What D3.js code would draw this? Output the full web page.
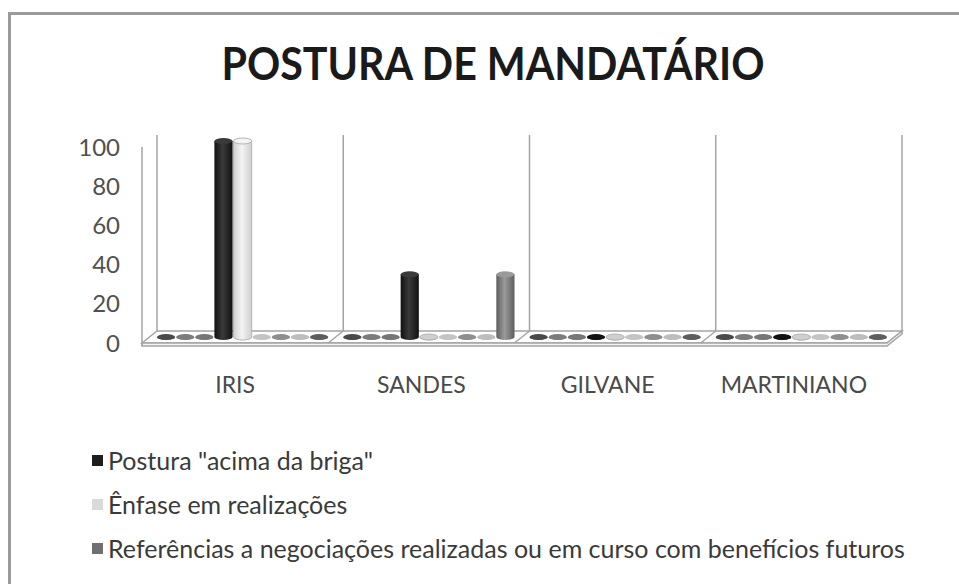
<!DOCTYPE html>
<html>
<head>
<meta charset="utf-8">
<script src="https://cdn.jsdelivr.net/npm/d3@7"></script>
<style>
  body { margin: 0; background: #fff; }
  svg { display: block; }
  text { font-family: Lato, "Open Sans", sans-serif; }
</style>
</head>
<body>
<div id="chart"></div>
<script>
var categories = ["IRIS", "SANDES", "GILVANE", "MARTINIANO"];

// 9 series per candidate, only 3 of them show in the visible part of the legend
var seriesNames = [null, null, null,
    'Postura "acima da briga"',
    "Ênfase em realizações",
    null, null, null,
    "Referências a negociações realizadas ou em curso com benefícios futuros"];

var serie1 = [0, 0, 0, 0],
    serie2 = [0, 0, 0, 0],
    serie3 = [0, 0, 0, 0],
    postura = [100, 32, 0, 0],
    enfase = [100, 0, 0, 0],
    serie6 = [0, 0, 0, 0],
    serie7 = [0, 0, 0, 0],
    serie8 = [0, 0, 0, 0],
    referencias = [0, 32, 0, 0];

var seriesValues = [serie1, serie2, serie3, postura, enfase, serie6, serie7, serie8, referencias];
var yTicks = [0, 20, 40, 60, 80, 100];

// colours: [edge, middle] for the cylinder shading
var colors = [
    ["#4a4a4a", "#7a7a7a"],
    ["#7c7c7c", "#a8a8a8"],
    ["#767676", "#a0a0a0"],
    ["#111111", "#3a3a3a"],
    ["#cfcfcf", "#f4f4f4"],
    ["#c4c4c4", "#e0e0e0"],
    ["#8e8e8e", "#b8b8b8"],
    ["#bdbdbd", "#dcdcdc"],
    ["#5e5e5e", "#9a9a9a"]
];

var width = 959,
    height = 584;

var svg = d3.select("#chart").append("svg")
    .attr("width", width)
    .attr("height", height);

var defs = svg.append("defs");
colors.forEach(function (c, i) {
    var g = defs.append("linearGradient").attr("id", "cyl" + i)
        .attr("x1", 0).attr("x2", 1).attr("y1", 0).attr("y2", 0);
    g.append("stop").attr("offset", "0%").attr("stop-color", c[0]);
    g.append("stop").attr("offset", "45%").attr("stop-color", c[1]);
    g.append("stop").attr("offset", "100%").attr("stop-color", c[0]);
});

// outer frame
svg.append("path")
    .attr("d", "M9.5,600V13.5H980")
    .attr("fill", "none")
    .attr("stroke", "#9a9a9a")
    .attr("stroke-width", 3);

svg.append("text")
    .attr("x", 493)
    .attr("y", 80)
    .attr("text-anchor", "middle")
    .attr("font-weight", "bold")
    .attr("font-size", 46)
    .attr("textLength", 543)
    .attr("lengthAdjust", "spacingAndGlyphs")
    .attr("fill", "#1a1a1a")
    .text("POSTURA DE MANDATÁRIO");

// 3D box
var depthX = 15, depthY = -12;
var x0 = d3.scaleBand().domain(categories).range([142, 887]);
var y = d3.scaleLinear().domain([0, 100]).range([343, 147]);
var x1 = d3.scaleBand().domain(d3.range(seriesValues.length))
    .range([7.5, x0.bandwidth() - 7.5]).paddingInner(0.05);

var left = x0.range()[0], right = x0.range()[1];
var wallStroke = "#a4a4a4";
var box = svg.append("g").attr("fill", "none").attr("stroke", wallStroke).attr("stroke-width", 1.5);

// floor slab
box.append("path")
    .attr("fill", "#fff")
    .attr("d", "M" + left + "," + y(0) + "L" + (left + depthX) + "," + (y(0) + depthY) +
        "H" + (right + depthX) + "L" + right + "," + y(0) + "Z");
box.append("path")
    .attr("fill", "#f4f4f4")
    .attr("d", "M" + left + "," + y(0) + "H" + right + "L" + (right + depthX) + "," + (y(0) + depthY) +
        "V" + (y(0) + depthY + 3) + "L" + right + "," + (y(0) + 3) + "H" + left + "Z");

// side wall edges
box.append("line").attr("x1", left).attr("x2", left).attr("y1", y(0) + 3).attr("y2", y(100));
box.append("line").attr("x1", left + depthX).attr("x2", left + depthX)
    .attr("y1", y(0) + depthY).attr("y2", y(100) + depthY);

// category dividers on the back wall and across the floor
var dividers = categories.map(function (c) { return x0(c) + x0.bandwidth(); });
box.selectAll(".div").data(dividers).join("path")
    .attr("class", "div")
    .attr("d", function (d, i) {
        var p = "M" + (d + depthX) + "," + (y(100) + depthY) + "V" + (y(0) + depthY);
        if (i < dividers.length - 1) p += "L" + d + "," + y(0);
        return p;
    });

// y labels
svg.append("g").selectAll("text").data(yTicks).join("text")
    .attr("x", 120)
    .attr("y", function (d) { return y(d); })
    .attr("dy", "0.36em")
    .attr("text-anchor", "end")
    .attr("font-size", 24)
    .attr("fill", "#505050")
    .text(function (d) { return d; });

// category labels
svg.append("g").selectAll("text").data(categories).join("text")
    .attr("x", function (d) { return x0(d) + x0.bandwidth() / 2; })
    .attr("y", 385)
    .attr("dy", "0.36em")
    .attr("text-anchor", "middle")
    .attr("font-size", 23)
    .attr("fill", "#4a4a4a")
    .text(function (d) { return d; });

// cylinders, placed at mid depth
var mid = svg.append("g").attr("transform", "translate(" + depthX / 2 + "," + depthY / 2 + ")");
var cells = [];
categories.forEach(function (c, ci) {
    seriesValues.forEach(function (vals, si) {
        cells.push({cat: c, s: si, v: vals[ci]});
    });
});

var rx = x1.bandwidth() / 2, ry = 3;
var cyl = mid.selectAll("g.cyl").data(cells).join("g")
    .attr("class", "cyl")
    .attr("transform", function (d) { return "translate(" + (x0(d.cat) + x1(d.s) + rx) + ",0)"; });

cyl.append("path")
    .attr("fill", function (d) { return "url(#cyl" + d.s + ")"; })
    .attr("stroke", function (d) { return d.s === 4 ? "#b4b4b4" : "none"; })
    .attr("d", function (d) {
        var top = y(d.v), bot = y(0);
        return "M" + (-rx) + "," + top + "V" + bot +
            "A" + rx + "," + ry + " 0 0 0 " + rx + "," + bot +
            "V" + top + "Z";
    });
cyl.append("ellipse")
    .attr("cx", 0)
    .attr("cy", function (d) { return y(d.v); })
    .attr("rx", rx)
    .attr("ry", ry)
    .attr("fill", function (d) { return d.v > 0 ? colors[d.s][1] : colors[d.s][0]; })
    .attr("stroke", function (d) { return d.s === 4 ? "#b4b4b4" : "none"; });

// legend (only the entries that fit on the page)
var legendItems = seriesNames
    .map(function (n, i) { return {name: n, s: i}; })
    .filter(function (d) { return d.name; });

var legend = svg.append("g").selectAll("g").data(legendItems).join("g")
    .attr("transform", function (d, i) { return "translate(92," + (461 + i * 44) + ")"; });
legend.append("rect")
    .attr("x", 0).attr("y", -6)
    .attr("width", 11).attr("height", 11)
    .attr("fill", function (d) { return d3.interpolateRgb(colors[d.s][0], colors[d.s][1])(0.3); });
legend.append("text")
    .attr("x", 16)
    .attr("dy", "0.36em")
    .attr("font-size", 25)
    .attr("fill", "#3a3a3a")
    .text(function (d) { return d.name; });
</script>
</body>
</html>
